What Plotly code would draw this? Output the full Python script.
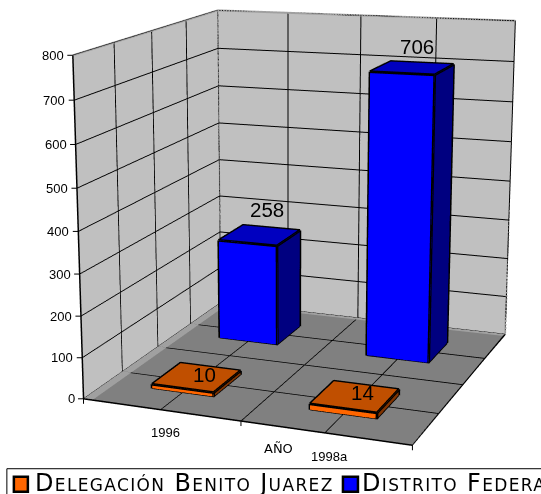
import numpy as np
import plotly.graph_objects as go

categories = ["1996", "1998a"]
series_names = ["Delegación Benito Juarez", "Distrito Federal"]
delegacion = [10, 14]
distrito = [258, 706]
y_ticks = [0, 100, 200, 300, 400, 500, 600, 700, 800]

# Camera fitted to the reference's weak, off-centre perspective: the canvas is larger than
# the window and shifted so that plotly's fixed 45-degree lens reproduces it.
offx, offy = -258.80, -479.98
W, H = 541 - offx, 1423.38
eye = np.array([1.7165, -4.7868, 1.2137])
yaw, pitch, roll = -0.4424, -0.2487, 0.0219
aspect_y, aspect_z = 1.0591, 1.0204
f = np.array([np.sin(yaw)*np.cos(pitch), np.cos(yaw)*np.cos(pitch), np.sin(pitch)])
s0 = np.cross(f, [0, 0, 1.0]); s0 /= np.linalg.norm(s0)
u0 = np.cross(s0, f)
up = np.cos(roll)*u0 + np.sin(roll)*s0
center = eye + 2*f

def px(x): return (x-offx)/W
def py(y): return 1-(y-offy)/H

def box(cx, cy, hw, z, colors):
    x0, x1, y0, y1 = cx-hw, cx+hw, cy-hw, cy+hw
    xs = [x0, x1, x1, x0, x0, x1, x1, x0]
    ys = [y0, y0, y1, y1, y0, y0, y1, y1]
    zs = [0, 0, 0, 0, z, z, z, z]
    front, top, side = colors
    i = [0, 0, 4, 4, 1, 1]
    j = [1, 5, 5, 6, 2, 6]
    k = [5, 4, 6, 7, 6, 5]
    mesh = go.Mesh3d(x=xs, y=ys, z=zs, i=i, j=j, k=k, facecolor=[front, front, top, top, side, side],
                     flatshading=True, hoverinfo="skip", showlegend=False,
                     lighting=dict(ambient=1, diffuse=0, specular=0, fresnel=0))
    ex = [x0,x1,x1,x0,x0,None,x0,x0,None,x1,x1,None,x1,x1,None,x0,x1,x1]
    ey = [y0,y0,y1,y1,y0,None,y0,y0,None,y0,y0,None,y1,y1,None,y0,y0,y1]
    ez = [z,z,z,z,z,None,0,z,None,0,z,None,0,z,None,0,0,0]
    edges = go.Scatter3d(x=ex, y=ey, z=ez, mode="lines", line=dict(color="black", width=5.5),
                         hoverinfo="skip", showlegend=False)
    return [mesh, edges]

def line(xs, ys, zs, color, width):
    return go.Scatter3d(x=xs, y=ys, z=zs, mode="lines", line=dict(color=color, width=width), hoverinfo="skip", showlegend=False)

def strip(xs, ys):
    return go.Mesh3d(x=xs, y=ys, z=[0.5]*4, i=[0,0], j=[1,2], k=[2,3], color="#a0a0a0", flatshading=True,
                     hoverinfo="skip", lighting=dict(ambient=1, diffuse=0, specular=0, fresnel=0))

fig = go.Figure()
fig.add_trace(strip([-.5,-.44,-.44,-.5],[-.5,-.5,1.5,1.5]))
fig.add_trace(strip([-.5,1.5,1.5,-.5],[1.46,1.46,1.5,1.5]))
fig.add_trace(line([-.5,-.5,1.5,1.5],[-.5,1.5,1.5,1.5],[800,800,800,0],"#a0a0a0",4))
fig.add_trace(line([-.5,-.5],[1.5,1.5],[800,0],"#a0a0a0",4))
fig.add_trace(line([-.5,-.5,1.5,1.5],[-.5,-.5,-.5,1.5],[800,0,0,0],"black",3))
hw = 0.2
for c, v in enumerate(delegacion):
    fig.add_traces(box(c, 0, hw, v, ["#ff6600", "#c04f00", "#803300"]))
for c, v in enumerate(distrito):
    fig.add_traces(box(c, 1, hw, v, ["#0000ff", "#0000c0", "#000080"]))

font = dict(family="Liberation Sans", size=13, color="black")
big = dict(family="Liberation Sans", size=20.5, color="black")
tick = dict(showarrow=True, arrowhead=0, arrowwidth=1, arrowcolor="black", text=" ", standoff=0, font=dict(size=1))
cat_shift = [(5, -23), (5, -24)]
top_shift = [(7, 26), (5, 21)]
low_shift = [(8, 3), (8, 4)]
ann = [dict(x=-.5, y=-.5, z=t, text=str(t), showarrow=False, xanchor="right", xshift=-7, font=font) for t in y_ticks]
ann += [dict(tick, x=-.5, y=-.5, z=t, ax=-7, ay=0) for t in y_ticks]
ann += [dict(tick, x=v, y=-.5, z=0, ax=0, ay=7) for v in (-.5, .5, 1.5)]
ann += [dict(x=c, y=-.5, z=0, text=n, showarrow=False, xshift=cat_shift[c][0], yshift=cat_shift[c][1], font=font) for c, n in enumerate(categories)]
ann += [dict(x=.5, y=-.5, z=0, text="AÑO", showarrow=False, yshift=-27, xshift=38, font=dict(family="DejaVu Sans", size=13, color="black"))]
ann += [dict(x=c, y=1, z=v, text=str(v), showarrow=False, xshift=top_shift[c][0], yshift=top_shift[c][1], font=big) for c, v in enumerate(distrito)]
ann += [dict(x=c, y=0, z=v, text=str(v), showarrow=False, xshift=low_shift[c][0], yshift=low_shift[c][1], font=big) for c, v in enumerate(delegacion)]

axis = dict(showbackground=True, gridcolor="black", gridwidth=2, showticklabels=False, title="", zeroline=False,
            showspikes=False, showline=False, ticks="")
legend_font = dict(family="DejaVu Sans", size=24, color="black", variant="small-caps")
fig.update_layout(width=W, height=H, margin=dict(l=0, r=0, t=0, b=0), paper_bgcolor="white", showlegend=False,
    scene=dict(
        domain=dict(x=[0,1], y=[0,1]),
        xaxis=dict(axis, tickvals=[-.5,0,.5,1,1.5], range=[-0.5, 1.5], backgroundcolor="#c0c0c0"),
        yaxis=dict(axis, tickvals=[-.5,0,.5,1,1.5], range=[-0.5, 1.5], backgroundcolor="#c0c0c0"),
        zaxis=dict(axis, tickvals=y_ticks, range=[0, 800], backgroundcolor="#808080"),
        aspectmode="manual",
        aspectratio=dict(x=1, y=aspect_y, z=aspect_z),
        camera=dict(eye=dict(x=eye[0], y=eye[1], z=eye[2]), center=dict(x=center[0], y=center[1], z=center[2]), up=dict(x=up[0], y=up[1], z=up[2])),
        annotations=ann),
    shapes=[dict(type="rect", xref="paper", yref="paper", x0=px(7), x1=px(700), y0=py(600), y1=py(469), line=dict(color="black", width=1), fillcolor="white"),
            dict(type="rect", xref="paper", yref="paper", x0=px(14), x1=px(28), y0=py(492), y1=py(477), line=dict(color="black", width=2.5), fillcolor="#ff6600"),
            dict(type="rect", xref="paper", yref="paper", x0=px(343), x1=px(358), y0=py(492), y1=py(477), line=dict(color="black", width=2.5), fillcolor="#0000ff")],
    annotations=[dict(xref="paper", yref="paper", x=px(33), y=py(483), text=series_names[0], showarrow=False, xanchor="left", yanchor="middle", align="left", font=legend_font),
                 dict(xref="paper", yref="paper", x=px(360), y=py(483), text=series_names[1], showarrow=False, xanchor="left", yanchor="middle", align="left", font=legend_font)])
post = f"""document.documentElement.style.overflow='hidden';document.body.style.overflow='hidden';
document.body.style.margin='{offy}px 0 0 {offx}px';
document.querySelectorAll('.annotation-text').forEach(function(t){{ if(t.textContent.length>10){{ t.style.letterSpacing='1.35px'; }} }});"""
fig.write_html("out.html", config=dict(displayModeBar=False), post_script=post)
